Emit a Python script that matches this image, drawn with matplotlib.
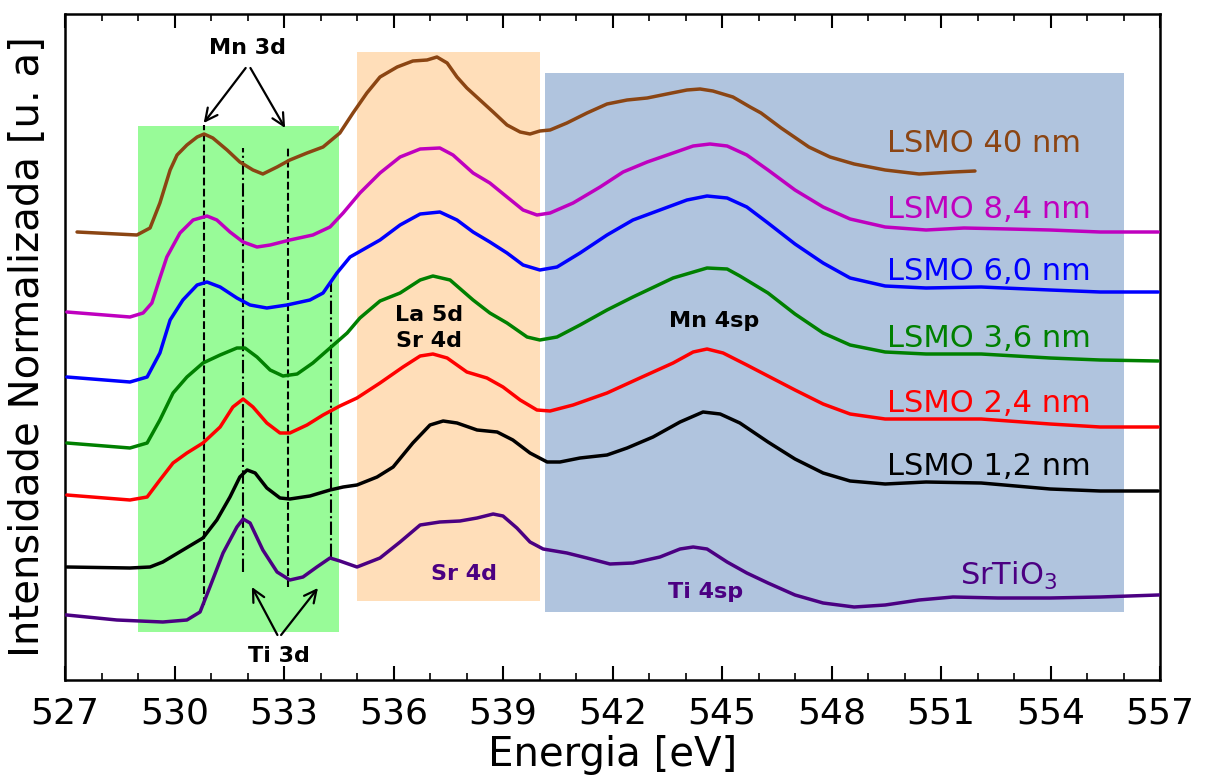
import matplotlib
matplotlib.use("Agg")
import matplotlib.pyplot as plt
from matplotlib.ticker import MultipleLocator

# ---------------- data ----------------
E_40 = [527.33, 528.97, 529.33, 529.60, 529.88, 530.07, 530.34, 530.62, 530.81, 531.05,
        531.44, 531.79, 532.15, 532.42, 532.81, 533.16, 533.63, 534.07, 534.53, 534.89,
        535.27, 535.63, 536.10, 536.53, 536.92, 537.19, 537.47, 537.74, 538.01, 538.37,
        538.73, 539.11, 539.47, 539.74, 540.01, 540.29, 540.75, 541.30, 541.85, 542.40,
        542.95, 543.49, 544.04, 544.40, 544.75, 545.30, 545.77, 546.07, 546.62, 547.38,
        547.96, 548.62, 549.47, 550.40, 551.33, 551.93]
I_40 = [4.48, 4.45, 4.52, 4.77, 5.10, 5.25, 5.35, 5.43, 5.46, 5.42,
        5.30, 5.18, 5.10, 5.06, 5.13, 5.20, 5.27, 5.33, 5.47, 5.67,
        5.87, 6.03, 6.13, 6.19, 6.20, 6.23, 6.17, 6.03, 5.92, 5.80,
        5.68, 5.55, 5.48, 5.46, 5.49, 5.50, 5.57, 5.67, 5.76, 5.80,
        5.82, 5.86, 5.90, 5.91, 5.89, 5.83, 5.73, 5.67, 5.52, 5.33,
        5.23, 5.16, 5.10, 5.06, 5.08, 5.09]

E_84 = [527.05, 528.78, 529.14, 529.38, 529.60, 529.79, 530.15, 530.51, 530.89, 531.16,
        531.52, 531.88, 532.26, 532.62, 533.16, 533.79, 534.26, 534.62, 535.08, 535.63,
        536.18, 536.73, 537.27, 537.63, 538.18, 538.64, 539.11, 539.55, 539.93, 540.29,
        540.92, 541.66, 542.29, 542.95, 543.66, 544.21, 544.67, 545.14, 545.68, 546.26,
        547.00, 547.77, 548.51, 549.47, 550.59, 551.63, 552.86, 553.99, 555.36, 556.95]
I_84 = [3.68, 3.63, 3.67, 3.77, 4.02, 4.23, 4.47, 4.60, 4.64, 4.60,
        4.48, 4.38, 4.33, 4.35, 4.40, 4.45, 4.53, 4.67, 4.87, 5.07,
        5.23, 5.31, 5.32, 5.25, 5.07, 4.97, 4.83, 4.70, 4.65, 4.67,
        4.77, 4.93, 5.08, 5.18, 5.27, 5.34, 5.36, 5.34, 5.25, 5.10,
        4.90, 4.73, 4.61, 4.53, 4.50, 4.52, 4.51, 4.50, 4.48, 4.48]

E_60 = [527.05, 528.78, 529.25, 529.60, 529.88, 530.23, 530.62, 530.89, 531.25, 531.71,
        532.07, 532.53, 533.08, 533.71, 534.07, 534.45, 534.81, 535.63, 536.18, 536.73,
        537.27, 537.74, 538.18, 538.64, 539.11, 539.55, 540.01, 540.48, 541.11, 541.85,
        542.56, 543.30, 544.04, 544.59, 545.14, 545.68, 546.26, 547.00, 547.77, 548.51,
        549.47, 550.59, 552.10, 553.99, 555.36, 556.95]
I_60 = [3.03, 2.98, 3.03, 3.27, 3.60, 3.80, 3.95, 3.98, 3.93, 3.82,
        3.75, 3.72, 3.75, 3.80, 3.87, 4.07, 4.23, 4.40, 4.55, 4.66,
        4.68, 4.60, 4.48, 4.38, 4.27, 4.15, 4.10, 4.13, 4.27, 4.45,
        4.60, 4.70, 4.80, 4.84, 4.82, 4.73, 4.57, 4.36, 4.17, 4.02,
        3.94, 3.92, 3.93, 3.90, 3.88, 3.88]

E_36 = [527.05, 528.78, 529.25, 529.60, 529.96, 530.34, 530.78, 531.25, 531.71, 531.93,
        532.26, 532.62, 532.97, 533.36, 533.79, 534.26, 534.73, 535.08, 535.63, 536.18,
        536.73, 537.08, 537.55, 538.18, 538.64, 539.11, 539.66, 540.01, 540.48, 541.11,
        541.85, 542.56, 543.66, 544.59, 545.14, 545.49, 546.26, 547.00, 547.77, 548.51,
        549.47, 550.59, 552.10, 553.99, 555.36, 556.95]
I_36 = [2.37, 2.32, 2.37, 2.60, 2.87, 3.03, 3.17, 3.25, 3.32, 3.32,
        3.23, 3.10, 3.04, 3.06, 3.17, 3.32, 3.47, 3.62, 3.79, 3.87,
        4.00, 4.04, 4.00, 3.80, 3.67, 3.57, 3.43, 3.40, 3.43, 3.55,
        3.70, 3.83, 4.02, 4.12, 4.11, 4.04, 3.87, 3.66, 3.47, 3.35,
        3.28, 3.26, 3.26, 3.22, 3.20, 3.19]

E_24 = [527.05, 528.78, 529.25, 529.60, 529.96, 530.34, 530.78, 531.25, 531.60, 531.88,
        532.15, 532.53, 532.89, 533.16, 533.63, 534.07, 534.53, 535.00, 535.63, 536.26,
        536.73, 537.08, 537.47, 538.01, 538.56, 539.00, 539.47, 539.93, 540.29, 540.92,
        541.85, 542.75, 543.66, 544.21, 544.59, 545.03, 545.68, 546.26, 547.00, 547.77,
        548.51, 549.47, 550.59, 552.10, 553.99, 555.36, 556.95]
I_24 = [1.85, 1.80, 1.83, 2.00, 2.17, 2.27, 2.37, 2.53, 2.73, 2.81,
        2.73, 2.57, 2.47, 2.47, 2.55, 2.65, 2.74, 2.82, 2.97, 3.13,
        3.24, 3.26, 3.22, 3.08, 3.02, 2.93, 2.80, 2.70, 2.69, 2.75,
        2.87, 3.02, 3.17, 3.28, 3.31, 3.27, 3.15, 3.04, 2.90, 2.76,
        2.66, 2.61, 2.61, 2.61, 2.56, 2.53, 2.53]

E_12 = [527.05, 528.78, 529.33, 529.68, 530.23, 530.78, 531.16, 531.52, 531.79, 531.99,
        532.21, 532.53, 532.89, 533.16, 533.71, 534.26, 534.62, 535.00, 535.55, 535.99,
        536.53, 537.00, 537.36, 537.74, 538.29, 538.84, 539.27, 539.74, 540.21, 540.56,
        541.11, 541.85, 542.40, 543.11, 543.85, 544.48, 544.95, 545.49, 546.26, 547.00,
        547.77, 548.51, 549.47, 550.59, 552.10, 553.99, 555.36, 556.95]
I_12 = [1.13, 1.12, 1.13, 1.18, 1.30, 1.42, 1.60, 1.83, 2.03, 2.10,
        2.07, 1.92, 1.82, 1.81, 1.84, 1.90, 1.93, 1.95, 2.03, 2.13,
        2.37, 2.55, 2.59, 2.57, 2.50, 2.48, 2.40, 2.27, 2.18, 2.18,
        2.22, 2.25, 2.32, 2.43, 2.58, 2.68, 2.66, 2.57, 2.38, 2.21,
        2.07, 1.99, 1.96, 1.98, 1.97, 1.91, 1.89, 1.89]

E_STO = [527.05, 528.42, 529.68, 530.34, 530.70, 530.97, 531.33, 531.71, 531.88, 532.07,
         532.42, 532.81, 533.16, 533.52, 533.90, 534.26, 534.53, 535.00, 535.63, 536.18,
         536.73, 537.27, 537.82, 538.29, 538.73, 539.00, 539.38, 539.74, 540.10, 540.75,
         541.30, 541.93, 542.56, 543.30, 543.85, 544.21, 544.59, 545.14, 545.68, 546.26,
         547.00, 547.77, 548.62, 549.47, 550.40, 551.33, 552.56, 553.99, 555.36, 556.95]
I_STO = [0.65, 0.60, 0.58, 0.60, 0.68, 0.93, 1.27, 1.53, 1.61, 1.57,
         1.30, 1.08, 1.00, 1.03, 1.13, 1.22, 1.19, 1.13, 1.22, 1.38,
         1.55, 1.58, 1.59, 1.62, 1.66, 1.64, 1.52, 1.38, 1.31, 1.27,
         1.22, 1.16, 1.17, 1.23, 1.31, 1.33, 1.31, 1.18, 1.07, 0.97,
         0.85, 0.77, 0.73, 0.75, 0.80, 0.83, 0.82, 0.82, 0.83, 0.85]

labels = ["LSMO 40 nm", "LSMO 8,4 nm", "LSMO 6,0 nm", "LSMO 3,6 nm",
          "LSMO 2,4 nm", "LSMO 1,2 nm"]
label_y = [5.28, 4.62, 4.00, 3.33, 2.68, 2.05]
colors = ["#8B4513", "#BF00BF", "#0000FF", "#008000", "#FF0000", "#000000"]
sto_color = "#4B0082"
xticks = [527, 530, 533, 536, 539, 542, 545, 548, 551, 554, 557]

# shaded regions: (x0, x1, y0, y1, colour)
regions = [(529.0, 534.5, 0.48, 5.54, "#98FB98"),
           (535.0, 540.0, 0.79, 6.28, "#FFDEB9"),
           (540.15, 556.0, 0.68, 6.07, "#B0C4DE")]

# vertical guide lines: energy, y0, y1, style
vlines = [(530.80, 0.75, 5.55, "--"),
          (531.88, 1.08, 5.32, "-."),
          (533.10, 0.93, 5.32, "--"),
          (534.28, 1.23, 3.98, "-.")]

# ---------------- figure ----------------
fig = plt.figure(figsize=(12.07, 7.80), dpi=100)
ax = fig.add_axes([65 / 1207, 100 / 780, 1095 / 1207, 666 / 780])

for x0, x1, y0, y1, c in regions:
    ax.fill_between([x0, x1], y0, y1, color=c, lw=0, zorder=0)

series = [(E_40, I_40), (E_84, I_84), (E_60, I_60), (E_36, I_36), (E_24, I_24), (E_12, I_12)]
for (e, i), c, lab, ly in zip(series, colors, labels, label_y):
    ax.plot(e, i, color=c, lw=2.5, zorder=3, solid_joinstyle="round", solid_capstyle="round")
    ax.text(549.52, ly, lab, color=c, fontsize=22, ha="left", va="baseline", zorder=4)
ax.plot(E_STO, I_STO, color=sto_color, lw=2.5, zorder=3, solid_joinstyle="round")
ax.text(551.52, 0.95, "SrTiO$_3$", color=sto_color, fontsize=22, ha="left", va="baseline")

for e, y0, y1, ls in vlines:
    ax.plot([e, e], [y0, y1], color="black", lw=1.5, ls=ls, zorder=2)

bold = dict(fontsize=16, fontweight="bold", ha="center", va="baseline", zorder=5)
ax.text(532.0, 6.26, "Mn 3d", color="black", **bold)
ax.text(532.86, 0.18, "Ti 3d", color="black", **bold)
ax.text(536.97, 3.59, "La 5d", color="black", **bold)
ax.text(536.97, 3.33, "Sr 4d", color="black", **bold)
ax.text(544.78, 3.53, "Mn 4sp", color="black", **bold)
ax.text(537.93, 1.00, "Sr 4d", color=sto_color, **bold)
ax.text(544.56, 0.82, "Ti 4sp", color=sto_color, **bold)

ap = dict(arrowstyle="->", lw=1.6, color="black", mutation_scale=22, shrinkA=0, shrinkB=0)
ax.annotate("", xy=(530.80, 5.57), xytext=(531.95, 6.12), arrowprops=ap)
ax.annotate("", xy=(533.03, 5.52), xytext=(532.08, 6.12), arrowprops=ap)
ax.annotate("", xy=(532.12, 0.93), xytext=(532.82, 0.45), arrowprops=ap)
ax.annotate("", xy=(533.93, 0.92), xytext=(532.92, 0.45), arrowprops=ap)

ax.set_xlim(527, 557)
ax.set_ylim(0, 6.66)
ax.set_xticks(xticks)
ax.xaxis.set_minor_locator(MultipleLocator(1))
ax.set_yticks([])
ax.tick_params(axis="x", which="both", direction="in", top=True, bottom=True)
ax.tick_params(axis="x", which="major", length=10, width=1.5, labelsize=26, pad=12)
ax.tick_params(axis="x", which="minor", length=5, width=1.2)
for s in ax.spines.values():
    s.set_linewidth(1.8)

ax.set_xlabel("Energia [eV]", fontsize=29, labelpad=3)
ax.set_ylabel("Intensidade Normalizada [u. a]", fontsize=29, labelpad=12)

fig.savefig("out.png", dpi=100)
